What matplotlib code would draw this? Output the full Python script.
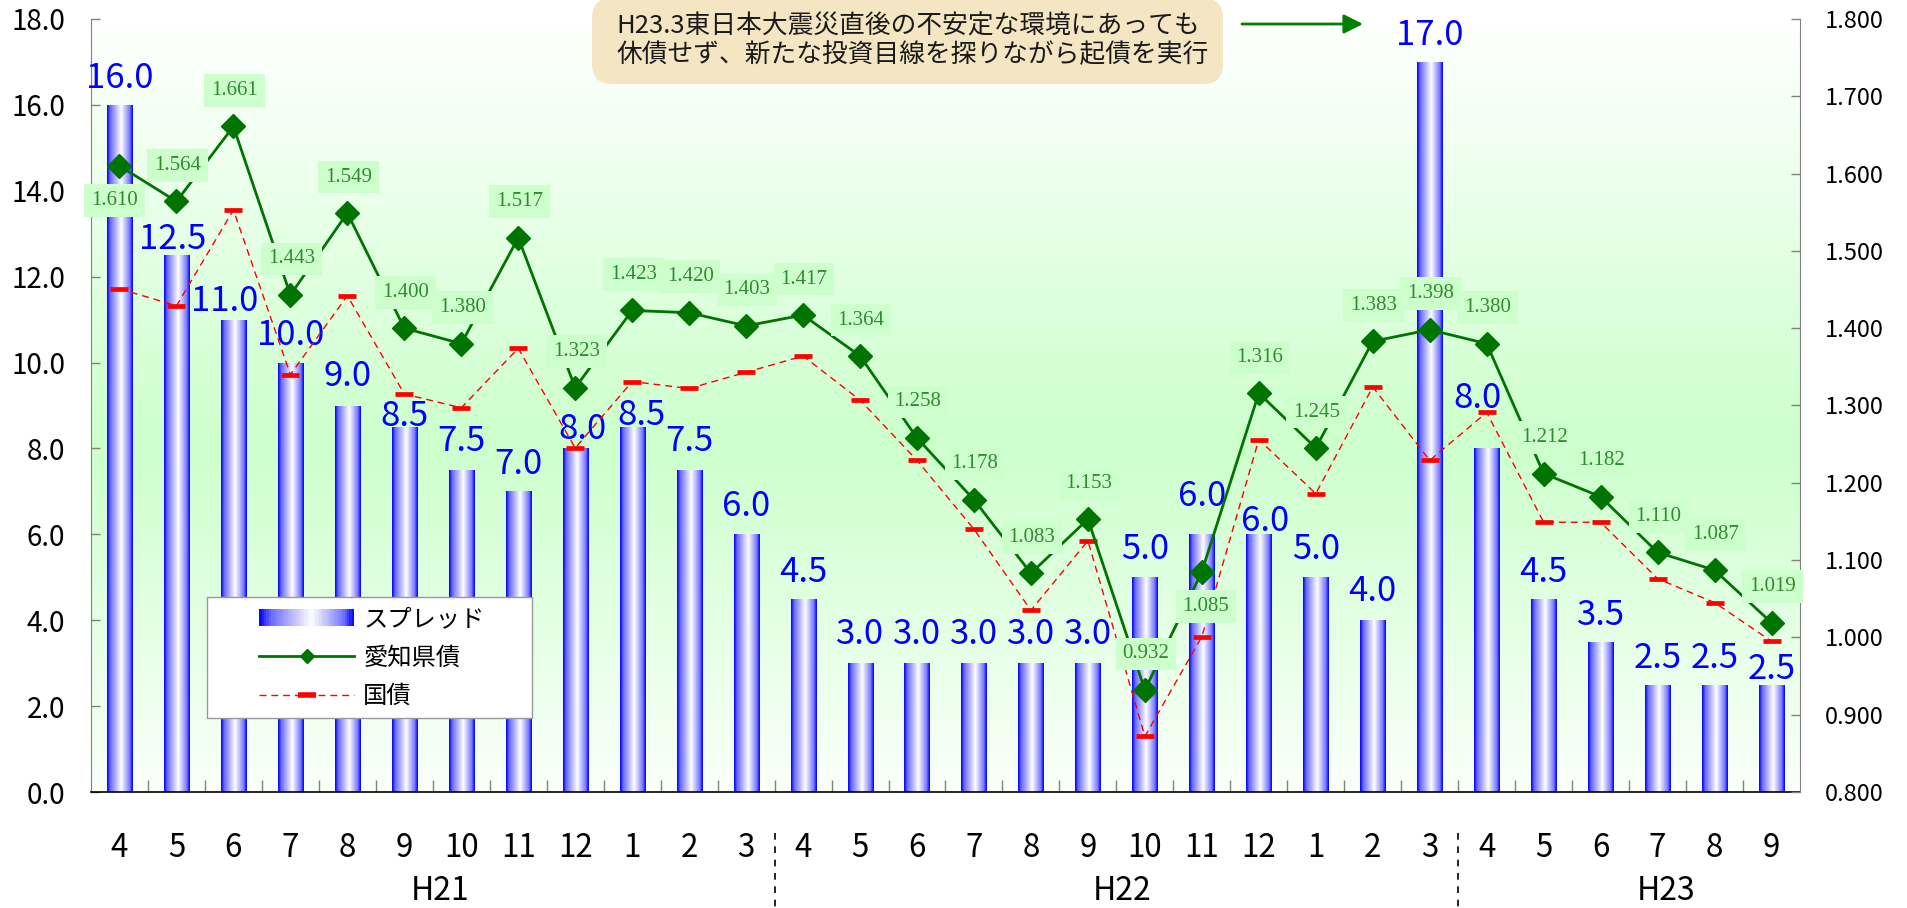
import matplotlib
matplotlib.use("Agg")
import matplotlib.pyplot as plt
import matplotlib.transforms as mtransforms
import numpy as np
from matplotlib.colors import LinearSegmentedColormap
from matplotlib.legend_handler import HandlerBase
from matplotlib.lines import Line2D
from matplotlib.patches import FancyArrowPatch, FancyBboxPatch, Rectangle
from matplotlib.ticker import FormatStrFormatter

plt.rcParams["font.family"] = ["Noto Sans CJK JP", "DejaVu Sans"]

# --- data ---
MONTHS = ["4", "5", "6", "7", "8", "9", "10", "11", "12", "1", "2", "3",
          "4", "5", "6", "7", "8", "9", "10", "11", "12", "1", "2", "3",
          "4", "5", "6", "7", "8", "9"]
YEARS = ["H21", "H22", "H23"]
YEAR_SPANS = [12, 12, 6]
SPREAD = [16.0, 12.5, 11.0, 10.0, 9.0, 8.5, 7.5, 7.0, 8.0, 8.5, 7.5, 6.0,
          4.5, 3.0, 3.0, 3.0, 3.0, 3.0, 5.0, 6.0, 6.0, 5.0, 4.0, 17.0,
          8.0, 4.5, 3.5, 2.5, 2.5, 2.5]
AICHI = [1.610, 1.564, 1.661, 1.443, 1.549, 1.400, 1.380, 1.517, 1.323, 1.423, 1.420, 1.403,
         1.417, 1.364, 1.258, 1.178, 1.083, 1.153, 0.932, 1.085, 1.316, 1.245, 1.383, 1.398,
         1.380, 1.212, 1.182, 1.110, 1.087, 1.019]
JGB = [1.451, 1.429, 1.553, 1.340, 1.442, 1.315, 1.297, 1.374, 1.245, 1.331, 1.322, 1.343,
       1.364, 1.307, 1.229, 1.140, 1.035, 1.125, 0.872, 1.001, 1.256, 1.186, 1.324, 1.229,
       1.291, 1.149, 1.149, 1.076, 1.045, 0.995]
SERIES_NAMES = ["スプレッド", "愛知県債", "国債"]
NOTE_LINES = ["H23.3東日本大震災直後の不安定な環境にあっても",
              "休債せず、新たな投資目線を探りながら起債を実行"]

# --- layout tweaks (pixels) ---
BAR_LABEL_GAP = [17, 6, 9, 18, 19, 1, 19, 17, 9, 2, 19, 18, 17, 19, 19, 19, 19, 19,
                 18, 28, 3, 18, 19, 17, 40, 17, 17, 17, 17, 6]
BAR_LABEL_DX = [0, -4, -9, 0, 0, 0, 0, 0, 7, 9, 0, 0, 0, 0, 0, 0, 0, 0,
                0, 0, 6, 0, 0, 0, -9, 0, 0, 0, 0, 0]
AICHI_LABEL_BELOW = {0: -5, 19: 4}  # index -> x shift in px
YEAR_LABEL_X = [5.63, 17.6, 27.15]

PX = 0.72  # points per pixel at dpi 100
W, H = 1908, 908
GREEN = "#007400"

bar_cmap = LinearSegmentedColormap.from_list(
    "bar", [(0, "#0000ff"), (0.12, "#6a6aff"), (0.55, "#ffffff"), (0.88, "#7a7aff"), (1, "#0000ff")])
bg_cmap = LinearSegmentedColormap.from_list(
    "bg", [(0, "#fafffa"), (0.45, "#ccffcc"), (1, "#ffffff")])


class GradientHandler(HandlerBase):
    def create_artists(self, legend, orig_handle, xdescent, ydescent, width, height, fontsize, trans):
        n = 40
        step = width / n
        arts = []
        for k in range(n):
            r = Rectangle((-xdescent + k * step, -ydescent), step * 1.05, height,
                          facecolor=bar_cmap((k + 0.5) / n), edgecolor="none", transform=trans)
            arts.append(r)
        return arts


fig = plt.figure(figsize=(W / 100, H / 100), dpi=100)
ax = fig.add_axes([91 / W, 1 - 792 / H, 1709 / W, 773 / H])
ax2 = ax.twinx()

x = np.arange(len(MONTHS))

# background gradient
ax.imshow(np.linspace(0, 1, 256).reshape(-1, 1), cmap=bg_cmap, origin="lower",
          extent=[-0.5, len(MONTHS) - 0.5, 0, 18], aspect="auto", zorder=0)

# gradient bars
bars = ax.bar(x, SPREAD, width=0.44, color="none", edgecolor="none", zorder=2)
grad = np.linspace(0, 1, 64).reshape(1, -1)
for b in bars:
    x0, w, h = b.get_x(), b.get_width(), b.get_height()
    im = ax.imshow(grad, cmap=bar_cmap, extent=[x0, x0 + w, 0, h], aspect="auto", zorder=1.5)
    im.set_clip_path(b)

for i, (b, v) in enumerate(zip(bars, SPREAD)):
    ax.annotate(f"{v:.1f}", (b.get_x() + b.get_width() / 2, v),
                xytext=(BAR_LABEL_DX[i] * PX, BAR_LABEL_GAP[i] * PX), textcoords="offset points",
                ha="center", va="baseline", fontsize=25, color="#0000ff", zorder=3)

ax.set_xlim(-0.5, len(MONTHS) - 0.5)
ax.set_ylim(0, 18)
ax.set_yticks(np.arange(0, 18.1, 2))
ax.yaxis.set_major_formatter(FormatStrFormatter("%.1f"))
ax.tick_params(axis="y", direction="in", length=6.5, width=1, color="#808080", pad=18.5, labelsize=20)
ax.set_xticks(x)
ax.set_xticklabels(MONTHS)
ax.tick_params(axis="x", length=0, pad=29, labelsize=22.5)
ax.set_xticks(np.arange(0.5, len(MONTHS) - 1, 1), minor=True)
ax.tick_params(axis="x", which="minor", direction="in", length=8.6, width=1, color="#808080")
for s in ["top", "right"]:
    ax.spines[s].set_visible(False)
ax.spines["left"].set_color("#808080")
ax.spines["bottom"].set_color("black")
ax.spines["bottom"].set_linewidth(1.2)

# lines on secondary axis
ax2.plot(x, JGB, color="#ff0000", lw=1, ls=(0, (5, 3.5)), marker="_", ms=13, mew=3.4, zorder=3)
ax2.plot(x, AICHI, color=GREEN, lw=2, marker="D", ms=12.5, zorder=4)
for i, v in enumerate(AICHI):
    if i in AICHI_LABEL_BELOW:
        off = (AICHI_LABEL_BELOW[i] * PX, -35 * PX)
    else:
        off = (1 * PX, 36 * PX)
    ax2.annotate(f"{v:.3f}", (i, v), xytext=off, textcoords="offset points",
                 ha="center", va="center", fontsize=15, family="Liberation Serif", color="#2e8b2e",
                 bbox=dict(boxstyle="square,pad=0.33", fc="#ccffcc", ec="none"), zorder=6)

ax2.set_ylim(0.8, 1.8)
ax2.set_yticks(np.arange(0.8, 1.81, 0.1))
ax2.yaxis.set_major_formatter(FormatStrFormatter("%.3f"))
ax2.tick_params(axis="y", direction="in", length=6.5, width=1, color="#808080", pad=18, labelsize=17)
for s in ["top", "left", "bottom"]:
    ax2.spines[s].set_visible(False)
ax2.spines["right"].set_color("#808080")

# year labels and separators under the axis
blend = mtransforms.blended_transform_factory(ax.transData, ax.transAxes)
for name, xp in zip(YEARS, YEAR_LABEL_X):
    ax.text(xp, -0.128, name, transform=blend, ha="center", va="center", fontsize=23)
for edge in np.cumsum(YEAR_SPANS)[:-1] - 0.5:
    ax.plot([edge, edge], [-0.053, -0.152], transform=blend, clip_on=False,
            color="black", lw=1.2, ls=(0, (4, 4)))

# legend with a hand drawn frame
ax2.add_patch(Rectangle((0.0679, 0.0957), 0.190, 0.1566, transform=ax2.transAxes,
                        fc="white", ec="#999999", lw=1, zorder=7))
bar_handle = Rectangle((0, 0), 1, 1)
handles = [
    bar_handle,
    Line2D([], [], color=GREEN, lw=2, marker="D", ms=7),
    Line2D([], [], color="#ff0000", lw=1, ls=(0, (5, 3.5)), marker="_", ms=13, mew=4),
]
leg = ax2.legend(handles, SERIES_NAMES, handler_map={bar_handle: GradientHandler()},
                 loc="center", bbox_to_anchor=(0.1644, 0.174), frameon=False, borderpad=0,
                 fontsize=17.5, handlelength=3.9, handletextpad=0.38, labelspacing=0.52)
leg.set_zorder(8)

# note box and arrow at the top
fig.add_artist(FancyBboxPatch((5.92, 8.24), 6.31, 0.86, boxstyle="round,pad=0,rounding_size=0.2",
                              transform=fig.dpi_scale_trans, fc="#f5e6c3", ec="none", zorder=2))
for k, line in enumerate(NOTE_LINES):
    fig.text(616 / W, 1 - (27 + 28 * k) / H, line, ha="left", va="center", fontsize=18.5,
             color="#1a1a1a", zorder=3)
fig.add_artist(FancyArrowPatch((12.42, 8.84), (13.63, 8.84), transform=fig.dpi_scale_trans,
                               arrowstyle="-|>,head_length=0.4,head_width=0.2", mutation_scale=29,
                               color="#008000", lw=2, shrinkA=0, shrinkB=0, zorder=3))

fig.savefig("out.png", dpi=100)
